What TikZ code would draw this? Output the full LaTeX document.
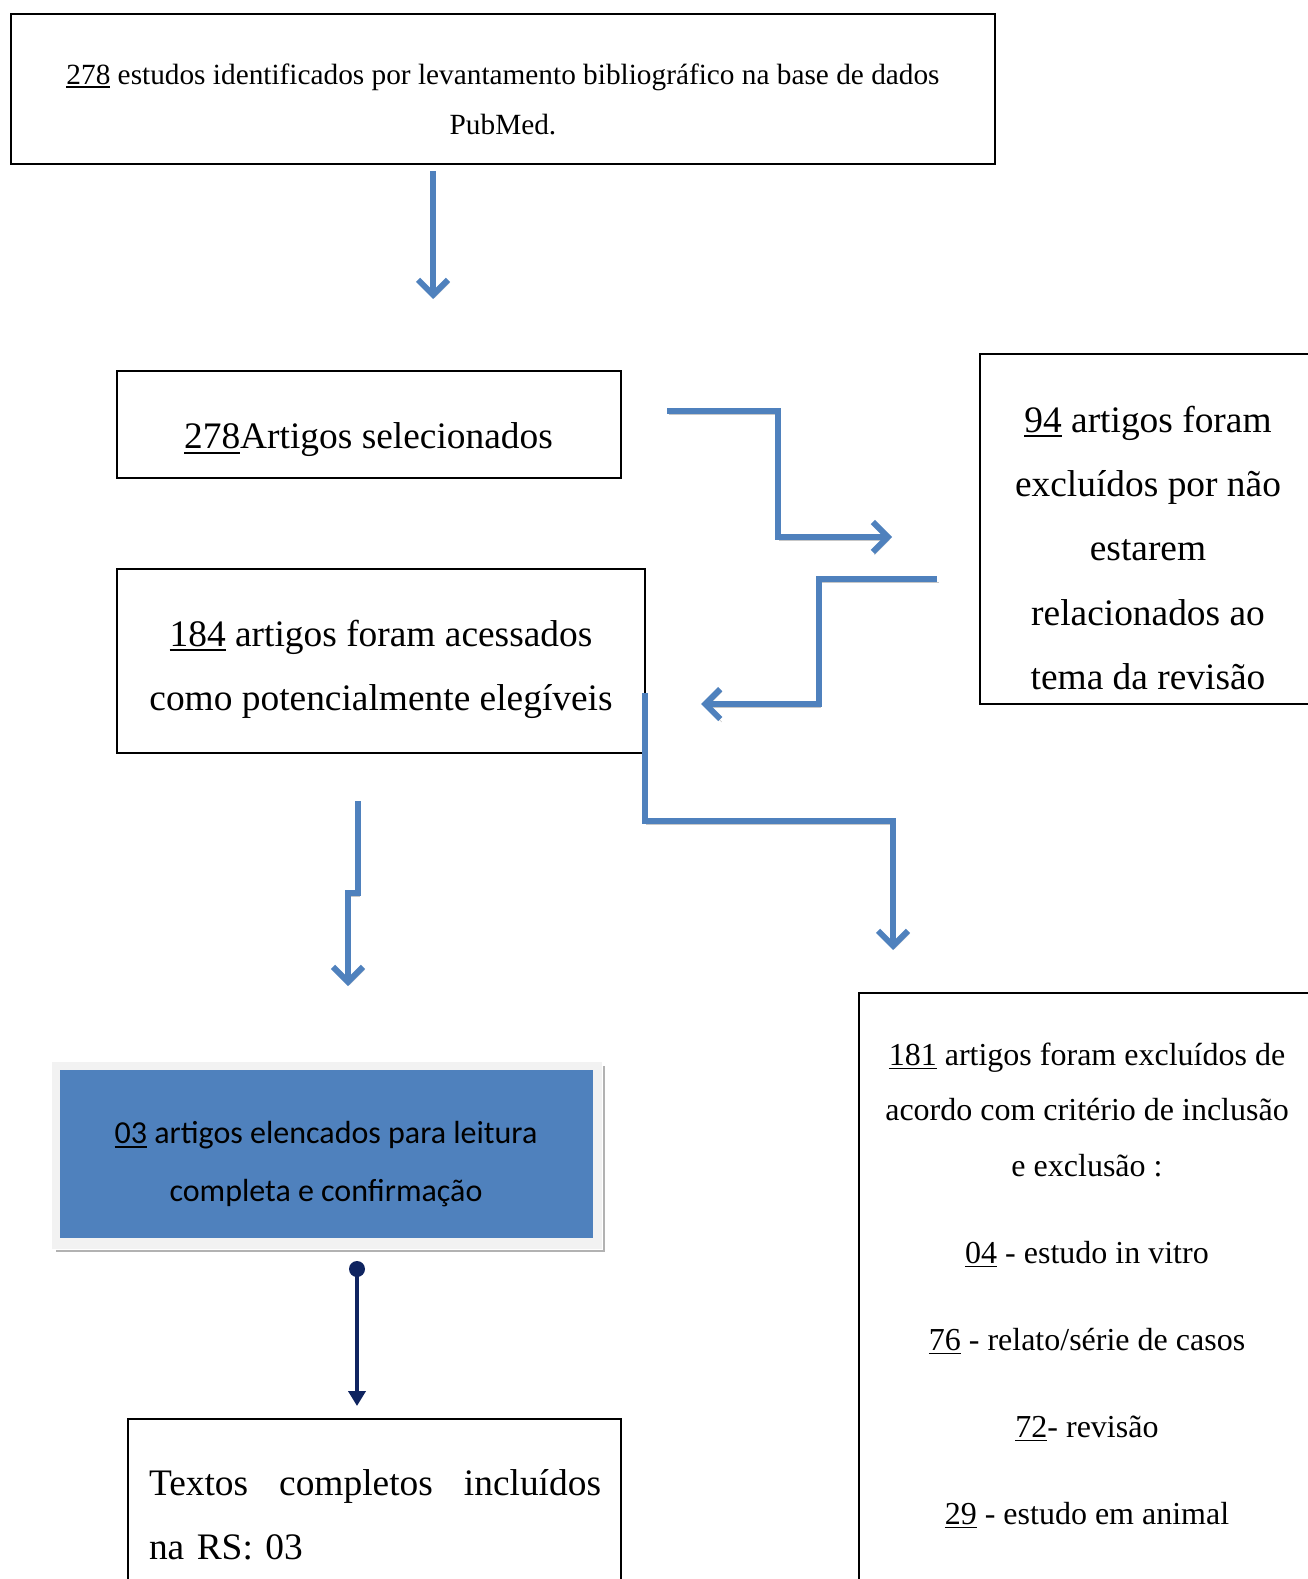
\documentclass[tikz,border=0pt]{standalone}
\usepackage{fontspec}
\setmainfont{Liberation Serif}
\newfontfamily\calfont{Carlito}
\usetikzlibrary{arrows.meta}
\definecolor{arrblue}{HTML}{4F81BD}
\definecolor{navy}{RGB}{15,36,96}
\definecolor{framegray}{HTML}{F2F2F2}
\newcommand\uln[1]{\leavevmode\setbox0\hbox{#1}\rlap{\rule[-0.13em]{\wd0}{0.055em}}\box0\relax}
\tikzset{
  box/.style={draw=black, line width=1.6pt, inner sep=0pt},
  txt/.style={inner sep=0pt, align=center},
  flow/.style={draw=arrblue, line width=6pt, line join=miter,
    -{Straight Barb[length=15pt,width=30pt,line width=6pt]},
    preaction={draw=black!22, transform canvas={shift={(1.5pt,-3pt)}}}},
}
\begin{document}
\begin{tikzpicture}[x=1pt,y=-1pt]
\useasboundingbox (0,0) rectangle (1308,1579);
% boxes
\node[box, minimum width=984, minimum height=150] (b1) at (503,89) {};
\node[txt, font=\fontsize{29.3}{50}\selectfont] (t1) at (503,99)
  {\uln{278} estudos identificados por levantamento bibliográfico na base de dados\\PubMed.};

\node[box, minimum width=504, minimum height=107] (b2) at (369,424.5) {};
\node[txt, font=\fontsize{37.4}{64}\selectfont] (t2) at (368.5,440) {\uln{278}Artigos selecionados};

\node[box, minimum width=334, minimum height=350] (b3) at (1147,529) {};
\node[txt, font=\fontsize{37.4}{64.4}\selectfont] (t3) at (1148,548)
  {\uln{94} artigos foram\\excluídos por não\\estarem\\relacionados ao\\tema da revisão};

\node[box, minimum width=528, minimum height=184] (b4) at (381,661) {};
\node[txt, font=\fontsize{37.4}{64}\selectfont] (t4) at (381,669)
  {\uln{184} artigos foram acessados\\como potencialmente elegíveis};

% blue box
\fill[framegray] (52,1062) rectangle (602,1249);
\draw[black!30, line width=2.5pt] (604,1066) -- (604,1251) -- (56,1251);
\node[fill=arrblue, inner sep=0pt, minimum width=533, minimum height=168] (b5) at (326.5,1154) {};
\node[txt, font=\calfont\fontsize{32}{58}\selectfont] (t5) at (326,1164)
  {\uln{03} artigos elencados para leitura\\completa e confirmação};

\node[box, minimum width=456, minimum height=600] (b6) at (1087,1293) {};
\node[txt, font=\fontsize{32}{55.5}\selectfont] (t6) at (1087,1285.5)
  {\uln{181} artigos foram excluídos de\\acordo com critério de inclusão\\e exclusão :\\[31.5pt]
   \uln{04} - estudo in vitro\\[31.5pt]\uln{76} - relato/série de casos\\[31.5pt]\uln{72}- revisão\\[31.5pt]\uln{29} - estudo em animal};

\node[box, minimum width=493, minimum height=180] (b7) at (374.5,1509) {};
\node[inner sep=0pt, align=left, text width=452, font=\fontsize{37.4}{64}\selectfont] (t7) at (375,1515)
  {\hbox to 452pt{Textos\hfill completos\hfill incluídos}\\na RS: 03};

% connectors
\coordinate (a1s) at (433,171);
\coordinate (a1e) at (433,299);
\draw[flow] (a1s) -- (a1e);

\coordinate (a2s) at (667,411);
\coordinate (a2e) at (892,537);
\draw[flow] (a2s) -- (778,411) -- (778,537) -- (a2e);

\coordinate (a3s) at (937,579);
\coordinate (a3e) at (701,704);
\draw[flow] (a3s) -- (819,579) -- (819,704) -- (a3e);

\coordinate (a4s) at (645,693);
\coordinate (a4e) at (893,950);
\draw[flow] (a4s) -- (645,821) -- (893,821) -- (a4e);

\coordinate (a5s) at (358,801);
\coordinate (a5e) at (348,986);
\draw[flow] (a5s) -- (358,893) -- (348,893) -- (a5e);

\coordinate (a6s) at (357,1269);
\coordinate (a6e) at (357,1406);
\fill[navy] (a6s) circle (8);
\draw[navy, line width=4.5pt, -{Triangle[length=15pt,width=17pt]}] (a6s) -- (a6e);
\end{tikzpicture}
\end{document}
